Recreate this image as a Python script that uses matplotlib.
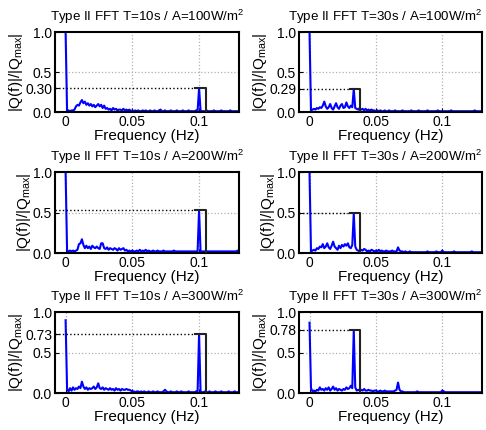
import numpy as np
import matplotlib.pyplot as plt

plt.rcParams['font.family'] = ['Liberation Sans', 'DejaVu Sans']
plt.rcParams['mathtext.default'] = 'regular'

# FFT bin spacing (Hz)
df = 1.0 / 900

periods = [10, 30]
areas = [100, 200, 300]

# normalised spectra |Q(f)|/|Qmax|
amp_t10_a100 = [1.00, 0.01, 0.02, 0.01, 0.02, 0.02, 0.03, 0.07, 0.09, 0.08,
                0.12, 0.15, 0.11, 0.13, 0.09, 0.11, 0.08, 0.10, 0.07, 0.09,
                0.06, 0.08, 0.10, 0.07, 0.09, 0.05, 0.08, 0.04, 0.05, 0.03,
                0.04, 0.02, 0.05, 0.03, 0.04, 0.02, 0.03, 0.03, 0.02, 0.04,
                0.02, 0.03, 0.02, 0.03, 0.01, 0.02, 0.01, 0.02, 0.01, 0.02,
                0.01, 0.01, 0.02, 0.01, 0.02, 0.01, 0.01, 0.02, 0.01, 0.01,
                0.02, 0.01, 0.01, 0.02, 0.03, 0.01, 0.01, 0.02, 0.01, 0.01,
                0.01, 0.02, 0.01, 0.01, 0.01, 0.02, 0.01, 0.01, 0.01, 0.02,
                0.01, 0.01, 0.01, 0.02, 0.01, 0.01, 0.01, 0.01, 0.02, 0.01,
                0.30, 0.02, 0.01, 0.01, 0.01, 0.02, 0.01, 0.01, 0.01, 0.01,
                0.02, 0.01, 0.01, 0.01, 0.01, 0.02, 0.01, 0.01, 0.01, 0.01,
                0.01, 0.02, 0.01, 0.01, 0.01, 0.01, 0.01, 0.01]
amp_t30_a100 = [1.00, 0.02, 0.03, 0.04, 0.03, 0.05, 0.04, 0.06, 0.05, 0.08,
                0.13, 0.07, 0.04, 0.06, 0.10, 0.05, 0.03, 0.07, 0.11, 0.06,
                0.04, 0.08, 0.10, 0.05, 0.06, 0.12, 0.07, 0.05, 0.08, 0.06,
                0.29, 0.05, 0.04, 0.03, 0.05, 0.03, 0.04, 0.02, 0.04, 0.02,
                0.03, 0.02, 0.03, 0.02, 0.02, 0.01, 0.02, 0.01, 0.02, 0.01,
                0.01, 0.02, 0.01, 0.01, 0.02, 0.01, 0.01, 0.01, 0.02, 0.01,
                0.01, 0.01, 0.01, 0.02, 0.01, 0.01, 0.01, 0.01, 0.01, 0.02,
                0.01, 0.01, 0.01, 0.01, 0.02, 0.01, 0.01, 0.01, 0.01, 0.01,
                0.02, 0.01, 0.01, 0.01, 0.01, 0.01, 0.01, 0.02, 0.01, 0.01,
                0.01, 0.01, 0.01, 0.01, 0.01, 0.01, 0.02, 0.01, 0.01, 0.01,
                0.01, 0.01, 0.01, 0.01, 0.01, 0.01, 0.01, 0.01, 0.01, 0.01,
                0.01, 0.01, 0.02, 0.01, 0.01, 0.01, 0.01, 0.01]
amp_t10_a200 = [1.00, 0.03, 0.02, 0.03, 0.02, 0.03, 0.02, 0.03, 0.04, 0.11,
                0.12, 0.17, 0.10, 0.06, 0.09, 0.06, 0.08, 0.05, 0.09, 0.07,
                0.06, 0.08, 0.06, 0.05, 0.12, 0.12, 0.06, 0.05, 0.07, 0.04,
                0.06, 0.05, 0.04, 0.06, 0.05, 0.03, 0.06, 0.04, 0.05, 0.06,
                0.03, 0.04, 0.02, 0.03, 0.02, 0.03, 0.02, 0.02, 0.03, 0.02,
                0.04, 0.02, 0.03, 0.02, 0.04, 0.02, 0.03, 0.02, 0.02, 0.03,
                0.02, 0.02, 0.03, 0.02, 0.02, 0.02, 0.03, 0.02, 0.02, 0.02,
                0.02, 0.02, 0.02, 0.03, 0.02, 0.02, 0.02, 0.02, 0.02, 0.02,
                0.02, 0.02, 0.02, 0.02, 0.02, 0.02, 0.02, 0.02, 0.02, 0.02,
                0.53, 0.02, 0.02, 0.02, 0.02, 0.02, 0.02, 0.02, 0.02, 0.02,
                0.02, 0.02, 0.02, 0.02, 0.02, 0.02, 0.02, 0.02, 0.02, 0.02,
                0.02, 0.02, 0.02, 0.02, 0.02, 0.02, 0.03, 0.02]
amp_t30_a200 = [1.00, 0.02, 0.03, 0.04, 0.03, 0.06, 0.05, 0.08, 0.07, 0.11,
                0.06, 0.08, 0.12, 0.07, 0.05, 0.09, 0.14, 0.08, 0.06, 0.04,
                0.09, 0.06, 0.10, 0.08, 0.11, 0.09, 0.12, 0.07, 0.06, 0.10,
                0.49, 0.08, 0.04, 0.03, 0.02, 0.04, 0.03, 0.05, 0.04, 0.02,
                0.03, 0.02, 0.04, 0.03, 0.02, 0.03, 0.02, 0.04, 0.02, 0.03,
                0.02, 0.02, 0.03, 0.02, 0.02, 0.02, 0.03, 0.02, 0.02, 0.02,
                0.07, 0.03, 0.02, 0.02, 0.01, 0.02, 0.01, 0.01, 0.02, 0.01,
                0.01, 0.01, 0.01, 0.01, 0.01, 0.01, 0.01, 0.01, 0.01, 0.01,
                0.02, 0.01, 0.01, 0.01, 0.01, 0.01, 0.02, 0.01, 0.01, 0.01,
                0.03, 0.01, 0.01, 0.01, 0.01, 0.01, 0.01, 0.01, 0.02, 0.01,
                0.01, 0.01, 0.01, 0.01, 0.01, 0.01, 0.01, 0.01, 0.01, 0.01,
                0.02, 0.01, 0.01, 0.01, 0.01, 0.01, 0.01, 0.01]
amp_t10_a300 = [0.90, 0.05, 0.02, 0.06, 0.03, 0.07, 0.04, 0.06, 0.05, 0.08,
                0.06, 0.14, 0.08, 0.05, 0.07, 0.04, 0.06, 0.05, 0.06, 0.08,
                0.05, 0.07, 0.12, 0.06, 0.05, 0.07, 0.04, 0.06, 0.05, 0.04,
                0.06, 0.04, 0.05, 0.03, 0.06, 0.04, 0.05, 0.03, 0.05, 0.04,
                0.04, 0.05, 0.04, 0.04, 0.03, 0.02, 0.02, 0.01, 0.02, 0.02,
                0.01, 0.02, 0.01, 0.02, 0.01, 0.01, 0.02, 0.01, 0.01, 0.02,
                0.01, 0.01, 0.02, 0.01, 0.01, 0.01, 0.02, 0.04, 0.02, 0.01,
                0.01, 0.02, 0.01, 0.01, 0.01, 0.02, 0.01, 0.01, 0.02, 0.01,
                0.01, 0.01, 0.01, 0.02, 0.01, 0.01, 0.01, 0.01, 0.02, 0.01,
                0.73, 0.02, 0.01, 0.01, 0.02, 0.01, 0.01, 0.02, 0.01, 0.01,
                0.01, 0.02, 0.01, 0.01, 0.01, 0.02, 0.01, 0.01, 0.01, 0.01,
                0.02, 0.01, 0.01, 0.01, 0.02, 0.01, 0.01, 0.01]
amp_t30_a300 = [0.87, 0.06, 0.02, 0.03, 0.02, 0.04, 0.03, 0.07, 0.04, 0.05,
                0.03, 0.06, 0.04, 0.07, 0.03, 0.05, 0.08, 0.04, 0.06, 0.03,
                0.05, 0.04, 0.03, 0.05, 0.04, 0.07, 0.05, 0.06, 0.09, 0.06,
                0.78, 0.07, 0.03, 0.04, 0.03, 0.04, 0.03, 0.05, 0.03, 0.03,
                0.04, 0.03, 0.03, 0.02, 0.03, 0.03, 0.02, 0.02, 0.03, 0.02,
                0.02, 0.03, 0.02, 0.02, 0.02, 0.02, 0.02, 0.02, 0.03, 0.04,
                0.13, 0.04, 0.02, 0.02, 0.01, 0.01, 0.01, 0.01, 0.01, 0.01,
                0.01, 0.01, 0.01, 0.02, 0.01, 0.01, 0.01, 0.01, 0.01, 0.01,
                0.01, 0.01, 0.01, 0.01, 0.01, 0.01, 0.01, 0.01, 0.01, 0.01,
                0.03, 0.02, 0.01, 0.01, 0.01, 0.01, 0.01, 0.01, 0.01, 0.01,
                0.01, 0.01, 0.01, 0.01, 0.01, 0.01, 0.01, 0.01, 0.01, 0.01,
                0.01, 0.01, 0.01, 0.01, 0.01, 0.01, 0.01, 0.01]

spectra = {
    (10, 100): amp_t10_a100, (30, 100): amp_t30_a100,
    (10, 200): amp_t10_a200, (30, 200): amp_t30_a200,
    (10, 300): amp_t10_a300, (30, 300): amp_t30_a300,
}

fig = plt.figure(figsize=(4.86, 4.30), dpi=100)

col_left = [0.113, 0.615]
col_width = [0.379, 0.377]
row_bottom = [0.7395, 0.4116, 0.086]
row_height = [0.186, 0.188, 0.188]

xmin, xmax = -0.008, 0.13

for r, area in enumerate(areas):
    for c, T in enumerate(periods):
        ax = fig.add_axes([col_left[c], row_bottom[r], col_width[c], row_height[r]])
        amp = np.array(spectra[(T, area)])
        freq = np.arange(len(amp)) * df

        # grid lines
        for gx in [0, 0.05, 0.1]:
            ax.axvline(gx, color='#b0b0b0', ls=':', lw=0.9, zorder=0)
        ax.axhline(0.5, color='#b0b0b0', ls=':', lw=0.9, zorder=0)

        ax.plot(freq, amp, color='#0000ff', lw=1.5, zorder=2)

        # marker at the forcing frequency
        pf = 1.0 / T
        pv = amp[np.argmin(np.abs(freq - pf))]
        ax.plot([xmin, pf - 0.003], [pv, pv], color='k', ls=':', lw=1.0, zorder=3)
        ax.plot([pf - 0.003, pf + 0.005, pf + 0.005], [pv, pv, 0],
                color='#222222', lw=1.5, zorder=3)

        ax.set_xlim(xmin, xmax)
        ax.set_ylim(0, 1)
        ax.set_xticks([0, 0.05, 0.1])
        ax.set_xticklabels(['0', '0.05', '0.1'])
        yt = [0, 0.5, 1.0]
        yl = ['0.0', '0.5', '1.0']
        if abs(pv - 0.5) > 0.1:
            yt.append(pv)
            yl.append('%.2f' % pv)
        ax.set_yticks(yt)
        ax.set_yticklabels(yl)
        ax.tick_params(direction='in', length=3, labelsize=10, pad=2)
        for s in ax.spines.values():
            s.set_linewidth(1.5)

        title = ax.set_title('Type II FFT T=%ds / A=%dW/m$^2$' % (T, area), fontsize=9.6, pad=8)
        if c == 1:
            # keep the right-hand titles inside the figure
            title.set_x(0.47)
        ax.set_xlabel('Frequency (Hz)', fontsize=11, labelpad=0)
        ax.set_ylabel('|Q(f)|/|Q$_{max}$|', fontsize=11, labelpad=0)

fig.savefig('out.png', dpi=100)
